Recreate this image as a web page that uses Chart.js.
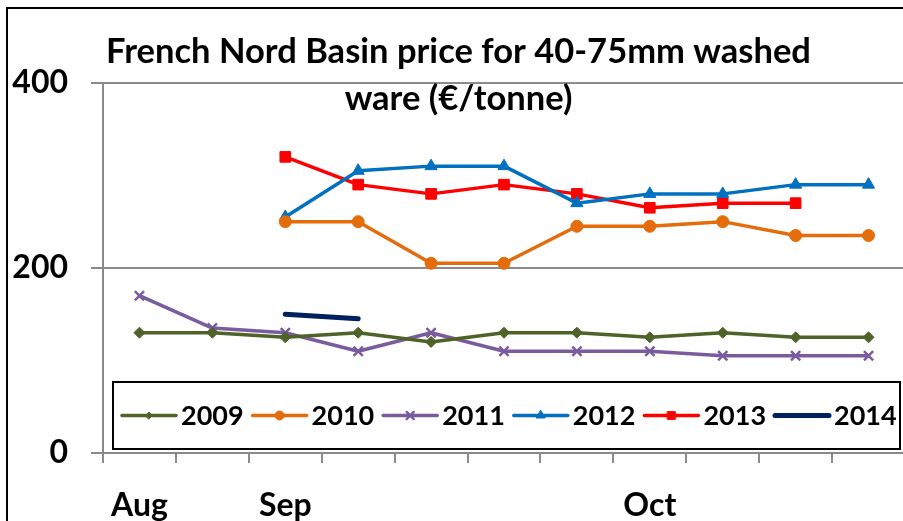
<!DOCTYPE html>
<html><head><meta charset="utf-8">
<script src="https://cdn.jsdelivr.net/npm/chart.js@4"></script>
<style>
html,body{margin:0;padding:0;background:#fff;overflow:hidden;width:903px;height:521px}
#frame{position:absolute;left:6px;top:7px;width:906px;height:530px;border:2px solid #000;background:#fff}
canvas{display:block}
</style></head><body>
<div id="frame"><canvas id="c" width="906" height="530"></canvas></div>
<script>
const tickLabels = ['Aug','','Sep','','','','','Oct','','',''];
const seriesNames = ['2009','2010','2011','2012','2013','2014'];
const s2009 = [130,130,125,130,120,130,130,125,130,125,125];
const s2010 = [null,null,250,250,205,205,245,245,250,235,235];
const s2011 = [170,135,130,110,130,110,110,110,105,105,105];
const s2012 = [null,null,255,305,310,310,270,280,280,290,290];
const s2013 = [null,null,320,290,280,290,280,265,270,270,null];
const s2014 = [null,null,150,145,null,null,null,null,null,null,null];
const yTickValues = [0,200,400];
const titleLines = ['French Nord Basin price for 40-75mm washed','ware (\u20AC/tonne)'];

const FONT = 'Lato, "Open Sans", sans-serif';
const GRID = '#8a8a8a';

function ds(label, data, color, style, radius, legendRadius, width){
  return {label, data, borderColor:color, backgroundColor:color,
    pointStyle:style, pointRadius:radius, pointHoverRadius:radius,
    pointBorderWidth: style==='crossRot'?2.5:1, pointBorderColor:color, pointBackgroundColor:color,
    borderWidth:width||3.5, spanGaps:false, tension:0, legendRadius,
    borderCapStyle:'round', borderJoinStyle:'round'};
}

const datasets = [
  ds(seriesNames[0], s2009, '#4F6228', 'rectRot', 5.5, 3.5),
  ds(seriesNames[1], s2010, '#E46C0A', 'circle', 6, 4.5),
  ds(seriesNames[2], s2011, '#7A5C9E', 'crossRot', 6.5, 5),
  ds(seriesNames[3], s2012, '#0070C0', 'triangle', 7, 5),
  ds(seriesNames[4], s2013, '#FF0000', 'rect', 7.5, 5.5),
  ds(seriesNames[5], s2014, '#002060', false, 0, 0, 5)
];

const legendBox = {
  id:'legendBox',
  afterDatasetsDraw(chart){
    const ctx = chart.ctx;
    const x0 = 105, y0 = 373, x1 = 892, y1 = 440;
    ctx.save();
    ctx.fillStyle = '#fff';
    ctx.fillRect(x0, y0, x1-x0, y1-y0);
    ctx.lineWidth = 2;
    ctx.strokeStyle = '#000';
    ctx.strokeRect(x0, y0, x1-x0, y1-y0);
    const cy = (y0+y1)/2;
    ctx.font = 'bold 27px ' + FONT;
    ctx.textBaseline = 'middle';
    ctx.textAlign = 'left';
    chart.data.datasets.forEach((d, i) => {
      const lx = 114 + i*130.6;
      ctx.strokeStyle = d.borderColor;
      ctx.lineWidth = d.borderWidth;
      ctx.lineCap = 'round';
      ctx.beginPath(); ctx.moveTo(lx, cy); ctx.lineTo(lx+54, cy); ctx.stroke();
      if (d.pointStyle) {
        ctx.fillStyle = d.pointBackgroundColor;
        ctx.strokeStyle = d.pointBorderColor;
        ctx.lineWidth = d.pointBorderWidth;
        Chart.helpers.drawPoint(ctx, {pointStyle:d.pointStyle, radius:d.legendRadius, rotation:0, borderWidth:d.pointBorderWidth}, lx+27, cy);
      }
      ctx.fillStyle = '#000';
      ctx.fillText(d.label, lx+59, cy+1);
    });
    ctx.restore();
  }
};

new Chart(document.getElementById('c'), {
  type:'line',
  data:{labels:tickLabels, datasets},
  plugins:[legendBox],
  options:{
    responsive:false, animation:false,
    layout:{padding:{left:0,right:5,top:0,bottom:0}},
    plugins:{
      legend:{display:false},
      tooltip:{enabled:false},
      title:{display:true, text:titleLines, color:'#000',
        font:{family:FONT, size:34.5, weight:'bold', lineHeight:1.36},
        padding:{top:19, bottom:-39}}
    },
    scales:{
      x:{
        offset:true,
        grid:{offset:true, drawOnChartArea:false, drawTicks:true, tickLength:10, color:GRID, lineWidth:2},
        border:{display:true, color:GRID, width:2},
        ticks:{autoSkip:false, maxRotation:0, minRotation:0, padding:23, color:'#000',
          font:{family:FONT, size:32, weight:'bold'}},
        afterFit(scale){ scale.height = 86; }
      },
      y:{
        min:0, max:400,
        afterBuildTicks(scale){ scale.ticks = yTickValues.map(v => ({value:v})); },
        grid:{drawOnChartArea:true, drawTicks:true, tickLength:12, color:GRID, lineWidth:2},
        border:{display:true, color:GRID, width:2},
        ticks:{padding:23, color:'#000', font:{family:FONT, size:32, weight:'bold'}},
        afterFit(scale){ scale.width = 95; }
      }
    }
  }
});
</script>
</body></html>
